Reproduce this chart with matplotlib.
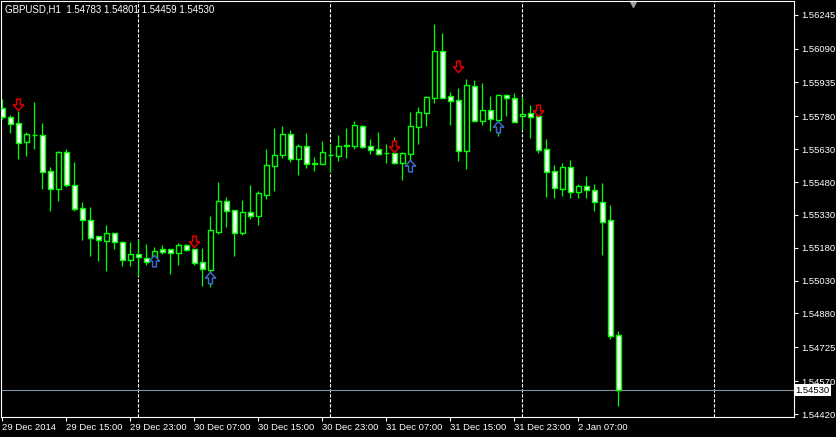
import numpy as np
import matplotlib
matplotlib.use('Agg')
import matplotlib.pyplot as plt
from matplotlib.path import Path

# GBPUSD H1 bars (29 Dec 2014 07:00 .. 2 Jan 2015 12:00)
opens = [1.55818, 1.55776, 1.55749, 1.55662, 1.55696, 1.55694, 1.55529, 1.55450, 1.55616, 1.55465,
         1.55360, 1.55305, 1.55233, 1.55212, 1.55246, 1.55206, 1.55125, 1.55151, 1.55133, 1.55124,
         1.55174, 1.55173, 1.55157, 1.55191, 1.55174, 1.55113, 1.55078, 1.55253, 1.55393, 1.55352,
         1.55249, 1.55342, 1.55326, 1.55422, 1.55555, 1.55605, 1.55698, 1.55587, 1.55643, 1.55568,
         1.55564, 1.55602, 1.55600, 1.55643, 1.55646, 1.55735, 1.55643, 1.55630, 1.55612, 1.55612,
         1.55566, 1.55610, 1.55733, 1.55797, 1.55866, 1.56079, 1.55873, 1.55854, 1.55623, 1.55918,
         1.55760, 1.55808, 1.55765, 1.55878, 1.55864, 1.55781, 1.55794, 1.55782, 1.55630, 1.55531,
         1.55450, 1.55548, 1.55436, 1.55461, 1.55442, 1.55387, 1.55305, 1.54783]
highs = [1.55860, 1.55786, 1.55806, 1.55707, 1.55845, 1.55749, 1.55548, 1.55622, 1.55630, 1.55572,
         1.55389, 1.55366, 1.55233, 1.55284, 1.55246, 1.55211, 1.55206, 1.55220, 1.55198, 1.55182,
         1.55192, 1.55173, 1.55201, 1.55197, 1.55175, 1.55179, 1.55325, 1.55480, 1.55410, 1.55352,
         1.55398, 1.55467, 1.55439, 1.55631, 1.55727, 1.55736, 1.55718, 1.55655, 1.55704, 1.55595,
         1.55668, 1.55653, 1.55695, 1.55727, 1.55759, 1.55741, 1.55677, 1.55709, 1.55654, 1.55685,
         1.55616, 1.55800, 1.55822, 1.55873, 1.56202, 1.56161, 1.55892, 1.55910, 1.55951, 1.55946,
         1.55933, 1.55873, 1.55882, 1.55882, 1.55887, 1.55869, 1.55832, 1.55823, 1.55677, 1.55558,
         1.55567, 1.55581, 1.55471, 1.55508, 1.55471, 1.55476, 1.55375, 1.54801]
lows = [1.55770, 1.55706, 1.55585, 1.55600, 1.55631, 1.55448, 1.55349, 1.55395, 1.55459, 1.55349,
        1.55215, 1.55144, 1.55119, 1.55074, 1.55174, 1.55098, 1.55098, 1.55052, 1.55101, 1.55098,
        1.55151, 1.55061, 1.55101, 1.55163, 1.55101, 1.55006, 1.55002, 1.55243, 1.55276, 1.55144,
        1.55238, 1.55311, 1.55284, 1.55404, 1.55441, 1.55591, 1.55573, 1.55514, 1.55546, 1.55531,
        1.55564, 1.55527, 1.55578, 1.55591, 1.55630, 1.55637, 1.55610, 1.55605, 1.55568, 1.55564,
        1.55491, 1.55558, 1.55654, 1.55736, 1.55843, 1.55866, 1.55741, 1.55578, 1.55541, 1.55760,
        1.55742, 1.55715, 1.55692, 1.55783, 1.55756, 1.55719, 1.55683, 1.55614, 1.55413, 1.55409,
        1.55418, 1.55409, 1.55409, 1.55409, 1.55349, 1.55148, 1.54764, 1.54459]
closes = [1.55776, 1.55744, 1.55657, 1.55700, 1.55695, 1.55527, 1.55450, 1.55616, 1.55468, 1.55358,
          1.55305, 1.55226, 1.55214, 1.55246, 1.55207, 1.55125, 1.55151, 1.55136, 1.55116, 1.55163,
          1.55162, 1.55157, 1.55192, 1.55171, 1.55112, 1.55081, 1.55260, 1.55393, 1.55349, 1.55249,
          1.55343, 1.55326, 1.55429, 1.55557, 1.55602, 1.55698, 1.55587, 1.55643, 1.55561, 1.55561,
          1.55616, 1.55602, 1.55643, 1.55649, 1.55739, 1.55642, 1.55628, 1.55610, 1.55612, 1.55568,
          1.55612, 1.55736, 1.55799, 1.55867, 1.56079, 1.55866, 1.55852, 1.55623, 1.55922, 1.55760,
          1.55808, 1.55770, 1.55878, 1.55863, 1.55756, 1.55790, 1.55779, 1.55628, 1.55527, 1.55454,
          1.55548, 1.55433, 1.55461, 1.55442, 1.55390, 1.55299, 1.54778, 1.54530]

# arrow signals (bar index, price)
sell_bars = [2, 24, 49, 57, 67]
sell_prices = [1.55832, 1.55206, 1.55640, 1.56008, 1.55807]
buy_bars = [19, 26, 51, 62]
buy_prices = [1.55122, 1.55048, 1.55556, 1.55738]

# day separators (first bar of each day)
day_starts = [17, 41, 65, 89]

time_ticks = [0, 8, 16, 24, 32, 40, 48, 56, 64, 72]
time_labels = ['29 Dec 2014', '29 Dec 15:00', '29 Dec 23:00', '30 Dec 07:00', '30 Dec 15:00',
               '30 Dec 23:00', '31 Dec 07:00', '31 Dec 15:00', '31 Dec 23:00', '2 Jan 07:00']
price_ticks = [1.56245, 1.56090, 1.55935, 1.55780, 1.55630, 1.55480, 1.55330,
               1.55180, 1.55030, 1.54880, 1.54725, 1.54570, 1.54420]
last_price = 1.54530

plt.rcParams['font.family'] = ['Liberation Sans', 'DejaVu Sans']
W, H = 837, 437
fig = plt.figure(figsize=(W / 100, H / 100), dpi=100, facecolor='black')
ax = fig.add_axes([1.5 / W, 1 - 416.5 / H, (794 - 1.5) / W, (416.5 - 1.5) / H], facecolor='black')

o = np.array(opens); c = np.array(closes)
x = np.arange(len(o))
green = '#00ff00'
ax.vlines(x, lows, highs, color=green, lw=0.9, zorder=2)
fills = ['white' if cc < oo else 'black' for oo, cc in zip(o, c)]
ax.bar(x, np.abs(c - o), bottom=np.minimum(o, c), width=0.58, color=fills,
       edgecolor=green, linewidth=1.0, zorder=3)

# arrows
down = Path([(-0.3, 1), (0.3, 1), (0.3, 0.1), (0.8, 0.1), (0, -0.8), (-0.8, 0.1), (-0.3, 0.1), (-0.3, 1)])
up = Path([(px, -py) for px, py in down.vertices])
ax.scatter(sell_bars, sell_prices, marker=down, s=85, facecolor='black', edgecolor='#e00000',
           linewidth=1.1, zorder=4)
ax.scatter(buy_bars, buy_prices, marker=up, s=85, facecolor='black', edgecolor='#3a6cc8',
           linewidth=1.1, zorder=4)

for d in day_starts:
    ax.axvline(d, color='white', lw=0.8, linestyle=(0, (3, 1.5)), zorder=1)

ax.axhline(last_price, color='#8090a0', lw=0.8, zorder=1)
ax.text(1.002, last_price, '%.5f' % last_price, transform=ax.get_yaxis_transform(),
        ha='left', va='center', fontsize=6.8, color='black', clip_on=False,
        bbox=dict(boxstyle='square,pad=0.15', facecolor='white', edgecolor='none'))

ax.set_xlim(-0.1, 98.96)
ax.set_ylim(1.54409, 1.56305)

ax.yaxis.tick_right()
ax.set_yticks(price_ticks)
ax.set_yticklabels(['%.5f' % p for p in price_ticks])
ax.set_xticks(time_ticks)
ax.set_xticklabels(time_labels, ha='left')
ax.tick_params(colors='white', labelsize=6.8, length=3, width=0.8, pad=2)
for s in ax.spines.values():
    s.set_color('white')
    s.set_linewidth(0.8)

fig.text(5 / W, 1 - 10 / H, 'GBPUSD,H1  1.54783 1.54801 1.54459 1.54530', color='white',
         fontsize=7, va='center', ha='left')
# chart shift marker
ax.plot([(633 - 1.5) / (794 - 1.5)], [1 - 3 / 415], marker='v', color='#a0a0a0', ms=5,
        transform=ax.transAxes, clip_on=False)

fig.savefig('out.png', dpi=100, facecolor='black')
